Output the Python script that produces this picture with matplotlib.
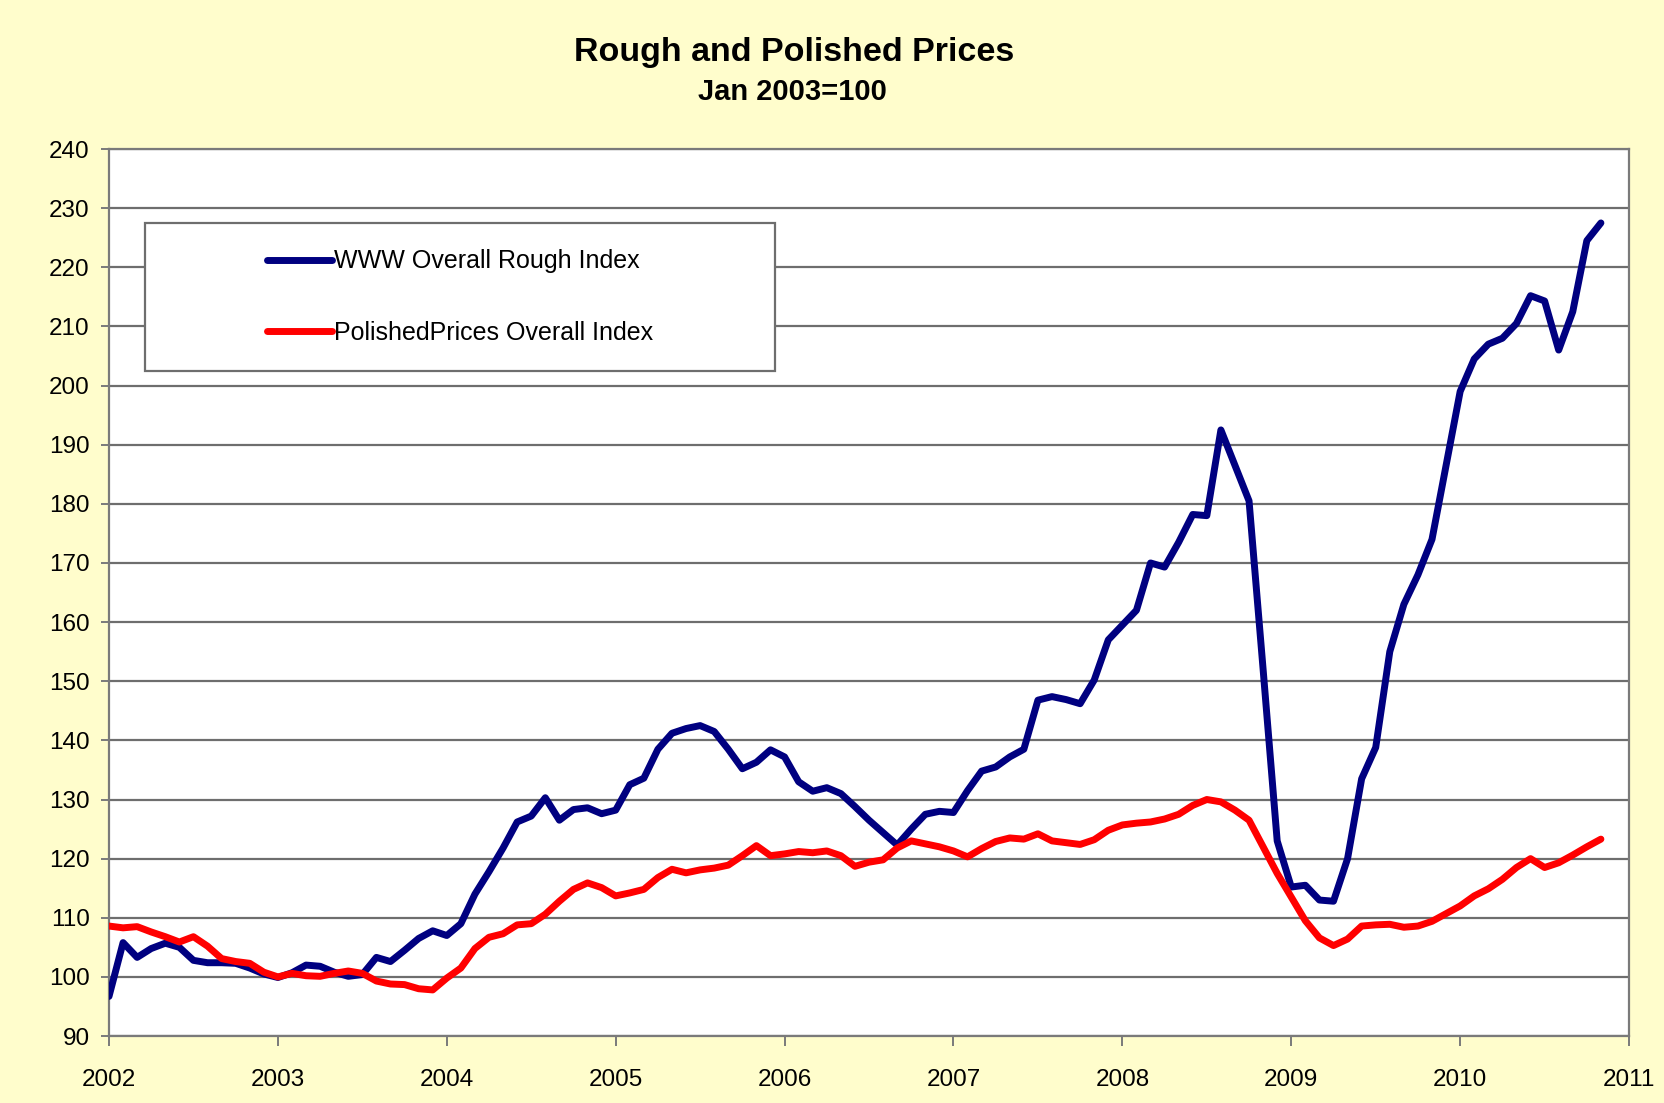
import matplotlib.pyplot as plt
import numpy as np
from matplotlib.patches import Rectangle

plt.rcParams['font.family'] = ['Liberation Sans', 'DejaVu Sans']

# Monthly index values, Jan 2002 .. Nov 2010 (Jan 2003 = 100)
rough = [
    96.7, 105.8, 103.3, 104.8, 105.7, 105.0, 102.8, 102.4, 102.4, 102.3, 101.5, 100.5,   # 2002
    99.9, 100.7, 102.0, 101.8, 100.8, 100.1, 100.4, 103.3, 102.6, 104.5, 106.5, 107.8,   # 2003
    107.0, 109.0, 114.0, 117.8, 121.8, 126.2, 127.2, 130.3, 126.5, 128.3, 128.6, 127.6,  # 2004
    128.2, 132.5, 133.6, 138.5, 141.2, 142.0, 142.5, 141.5, 138.5, 135.2, 136.3, 138.4,  # 2005
    137.2, 133.0, 131.4, 132.0, 131.0, 128.8, 126.5, 124.4, 122.3, 125.0, 127.5, 128.0,  # 2006
    127.8, 131.5, 134.8, 135.5, 137.2, 138.5, 146.8, 147.4, 146.9, 146.2, 150.2, 157.0,  # 2007
    159.5, 162.0, 170.0, 169.3, 173.5, 178.2, 178.0, 192.5, 186.5, 180.5, 152.0, 123.0,  # 2008
    115.2, 115.5, 113.0, 112.8, 120.0, 133.5, 138.8, 155.0, 163.0, 168.0, 174.0, 186.5,  # 2009
    199.0, 204.5, 207.0, 208.0, 210.5, 215.2, 214.3, 206.0, 212.5, 224.5, 227.5,         # 2010
]
polished = [
    108.6, 108.3, 108.5, 107.6, 106.8, 105.9, 106.8, 105.2, 103.1, 102.6, 102.3, 100.8,  # 2002
    100.0, 100.6, 100.2, 100.1, 100.6, 101.0, 100.6, 99.3, 98.8, 98.7, 98.0, 97.8,       # 2003
    99.8, 101.5, 104.8, 106.7, 107.3, 108.8, 109.0, 110.6, 112.8, 114.8, 115.9, 115.1,   # 2004
    113.7, 114.2, 114.8, 116.8, 118.2, 117.6, 118.1, 118.4, 118.9, 120.5, 122.2, 120.5,  # 2005
    120.8, 121.2, 121.0, 121.3, 120.5, 118.7, 119.4, 119.8, 121.8, 123.0, 122.5, 122.0,  # 2006
    121.3, 120.3, 121.7, 122.9, 123.5, 123.3, 124.2, 123.0, 122.7, 122.4, 123.2, 124.8,  # 2007
    125.7, 126.0, 126.2, 126.7, 127.5, 129.0, 130.0, 129.6, 128.2, 126.5, 122.0, 117.5,  # 2008
    113.5, 109.5, 106.6, 105.3, 106.4, 108.6, 108.8, 108.9, 108.4, 108.6, 109.4, 110.7,  # 2009
    112.0, 113.7, 114.9, 116.5, 118.5, 120.0, 118.5, 119.3, 120.6, 122.0, 123.3,         # 2010
]
start_year = 2002
years = list(range(2002, 2012))
yticks = list(range(90, 250, 10))

t = start_year + np.arange(len(rough)) / 12.0

fig = plt.figure(figsize=(16.64, 11.03), dpi=100)
fig.patch.set_facecolor('#FFFDCC')
ax = fig.add_axes([0.0655, 0.0607, 0.9135, 0.8042])
ax.set_facecolor('white')

ax.plot(t, rough, color='#000080', lw=5, solid_joinstyle='round',
        solid_capstyle='round', label='WWW Overall Rough Index', zorder=4)
ax.plot(t, polished, color='#FF0000', lw=5, solid_joinstyle='round',
        solid_capstyle='round', label='PolishedPrices Overall Index', zorder=4)

ax.set_xlim(years[0], years[-1])
ax.set_ylim(yticks[0], yticks[-1])
ax.set_xticks(years)
ax.set_yticks(yticks)
ax.set_axisbelow(True)
ax.yaxis.grid(True, color='#6e6e6e', lw=1.6)
for s in ax.spines.values():
    s.set_color('#7a7a7a')
    s.set_linewidth(1.6)
ax.tick_params(axis='both', direction='out', color='#7a7a7a', width=1.4,
               labelsize=17.5, labelcolor='black')
ax.tick_params(axis='x', length=7, pad=17)
ax.tick_params(axis='y', length=6, pad=8)

# legend frame + centred entries
ax.add_patch(Rectangle((0.0237, 0.7497), 0.4145, 0.1669, transform=ax.transAxes,
                       facecolor='white', edgecolor='#6e6e6e', lw=1.6, zorder=5))
leg = ax.legend(loc='center', bbox_to_anchor=(0.2309, 0.8331), frameon=False,
                fontsize=18, handlelength=2.6, handletextpad=0.1,
                labelspacing=1.9)
leg.set_zorder(6)
for h in leg.get_lines():
    h.set_linewidth(5)

fig.text(0.477, 0.952, 'Rough and Polished Prices', ha='center', va='center',
         fontsize=24.5, fontweight='bold')
fig.text(0.476, 0.9166, 'Jan 2003=100', ha='center', va='center',
         fontsize=21, fontweight='bold')

fig.savefig('out.png', dpi=100, facecolor=fig.get_facecolor())
